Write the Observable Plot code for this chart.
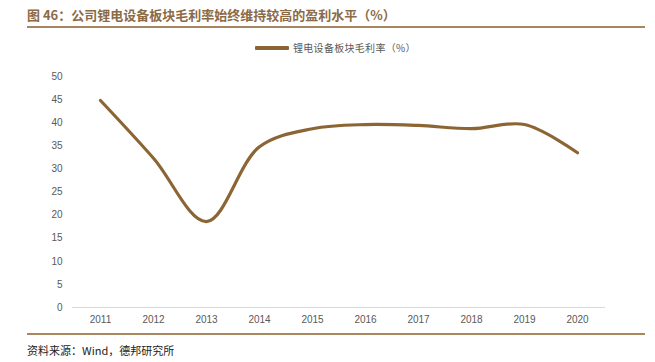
<!DOCTYPE html>
<html><head><meta charset="utf-8">
<script src="https://cdn.jsdelivr.net/npm/d3@7"></script>
<script src="https://cdn.jsdelivr.net/npm/@observablehq/plot@0.6"></script>
<style>
body{margin:0;width:655px;height:362px;background:#fff;font-family:"Liberation Sans","Noto Sans CJK SC",sans-serif;position:relative;overflow:hidden}
#title{position:absolute;left:27px;top:5px;font-size:13px;font-weight:bold;color:#8B6A45;font-family:"Noto Sans CJK SC",serif;white-space:nowrap}
#rule1{position:absolute;left:27px;top:26px;width:618px;height:2px;background:#A88660}
#legend{position:absolute;top:40px;left:255px;font-size:10px;color:#595959;font-family:"Noto Sans CJK SC",sans-serif;display:flex;align-items:center;letter-spacing:0.3px}
#legend .sw{width:34px;height:4px;background:#8B6634;margin-right:4px;border-radius:1px}
#chart{position:absolute;left:0;top:60px}
#rule2{position:absolute;left:27px;top:333px;width:618px;height:2px;background:#A88660}
#source{position:absolute;left:27px;top:342px;font-size:11px;color:#222;font-family:"Noto Sans CJK SC",serif;white-space:nowrap}
</style></head><body>
<div id="title">图 46：公司锂电设备板块毛利率始终维持较高的盈利水平（%）</div>
<div id="rule1"></div>
<div id="legend"><span class="sw"></span><span>锂电设备板块毛利率（%）</span></div>
<div id="chart"></div>
<div id="rule2"></div>
<div id="source">资料来源：Wind，德邦研究所</div>
<script>
const years = ["2011","2012","2013","2014","2015","2016","2017","2018","2019","2020"];
const margins = [44.8, 32.3, 18.6, 34.8, 38.7, 39.6, 39.4, 38.7, 39.6, 33.5];
const yTicks = [0,5,10,15,20,25,30,35,40,45,50];

const data = years.map((y,i)=>({year:y, value:margins[i]}));
const plot = Plot.plot({
  width:655, height:269,
  marginTop:16, marginBottom:22, marginLeft:72, marginRight:50,
  style:{fontFamily:"Liberation Sans, sans-serif", fontSize:"10px", color:"#595959", background:"transparent"},
  x:{type:"point", domain:years, padding:0.5, label:null},
  y:{domain:[0,50], label:null},
  marks:[
    Plot.ruleY([0],{stroke:"#D9D9D9", strokeWidth:1}),
    Plot.axisX({tickSize:0, tickPadding:8, fill:"#595959"}),
    Plot.axisY({ticks:yTicks, tickSize:0, tickPadding:10, fill:"#595959"}),
    Plot.line(data,{x:"year", y:"value", stroke:"#8B6634", strokeWidth:3.2, curve:"catmull-rom"})
  ]
});
document.getElementById("chart").appendChild(plot);
</script>
</body></html>
